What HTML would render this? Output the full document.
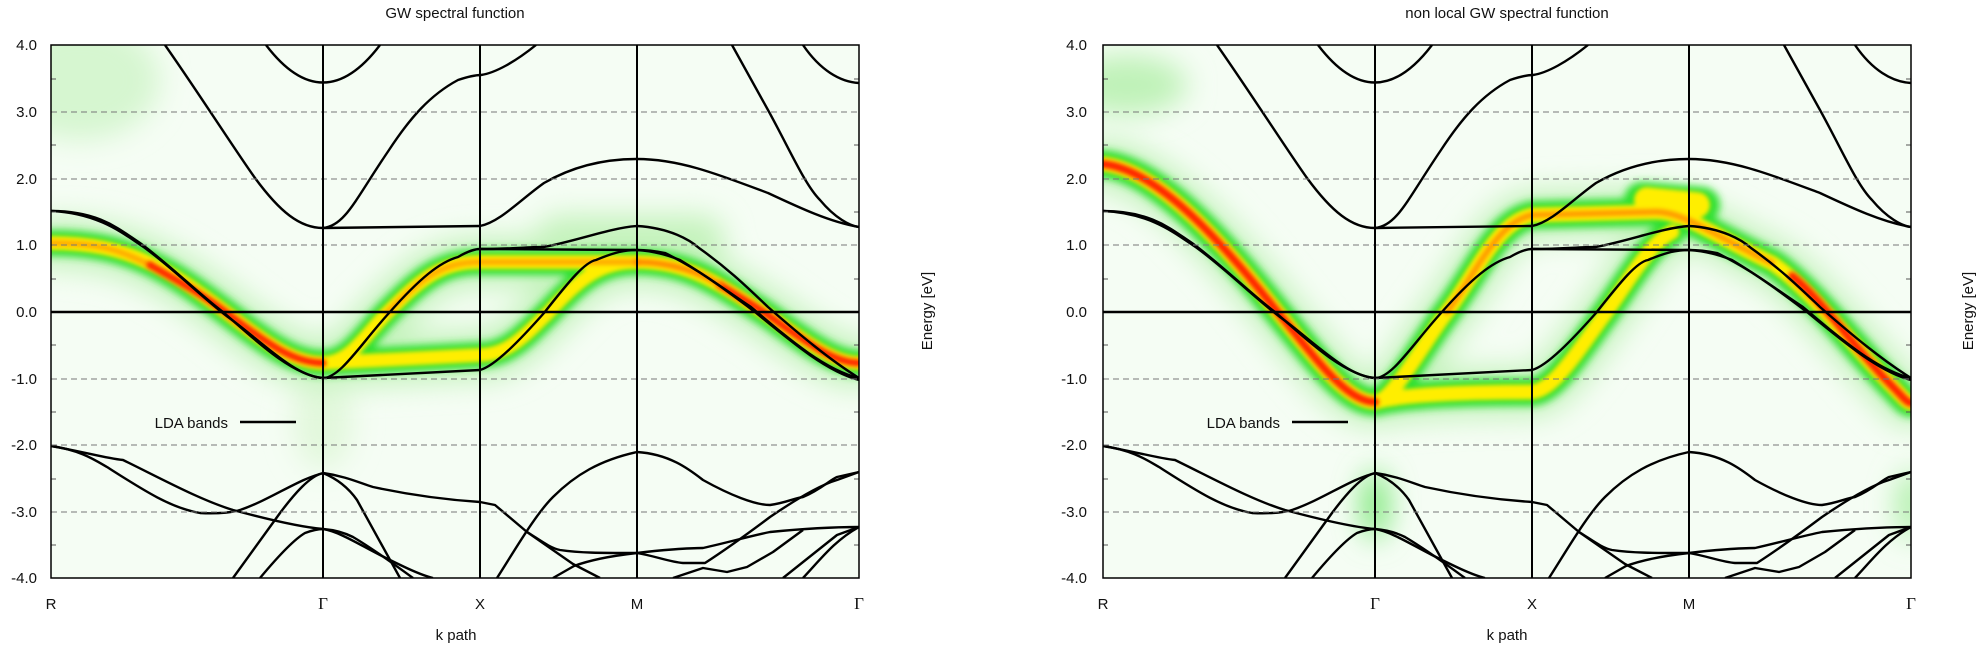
<!DOCTYPE html>
<html><head><meta charset="utf-8"><style>
html,body{margin:0;padding:0;background:#fff;}
svg{display:block;font-family:"Liberation Sans",sans-serif;}
</style></head><body>
<svg width="1984" height="650" viewBox="0 0 1984 650" xmlns="http://www.w3.org/2000/svg">
<defs>
<clipPath id="cp"><rect x="51" y="45" width="808" height="533"/></clipPath>
<filter id="fA" filterUnits="userSpaceOnUse" x="0" y="0" width="1000" height="650"><feGaussianBlur stdDeviation="14"/></filter>
<filter id="fB" filterUnits="userSpaceOnUse" x="0" y="0" width="1000" height="650"><feGaussianBlur stdDeviation="4"/></filter>
<filter id="fC" filterUnits="userSpaceOnUse" x="0" y="0" width="1000" height="650"><feGaussianBlur stdDeviation="2"/></filter>
<g id="lda" fill="none" stroke="#000" stroke-width="2.4" stroke-linejoin="round">
<path d="M165,45 C200,95 235,150 255,178 C280,212 300,228 323,228"/>
<path d="M266,45 Q323,120 380,45"/>
<path d="M323,228 C345,226 355,200 389,150 C410,118 430,95 458,80 C470,76 476,75 481,75 C495,73 515,62 536,45"/>
<path d="M323,228 L480,226"/>
<path d="M480,226 C500,222 520,200 544,183 C570,168 600,159 637,159 C680,159 720,175 768,193 C800,208 830,222 859,227"/>
<path d="M732,45 L768,110 C790,150 805,185 820,200 C835,218 850,226 859,227"/>
<path d="M803,45 C820,70 840,82 859,83"/>
<path d="M51,211 C100,211 120,230 140,243 C170,265 200,295 223,312 C250,335 290,375 323,378"/>
<path d="M51,211 C100,213 125,235 145,248 C175,270 205,300 228,317 C260,340 295,377 323,378"/>
<path d="M323,378 L480,370"/>
<path d="M323,378 C340,378 360,345 389,313 C420,278 440,262 458,257 C470,250 476,249 480,249"/>
<path d="M480,249 L637,250"/>
<path d="M480,370 C495,366 520,340 544,313 C570,280 585,262 596,260 C615,252 625,250 637,250"/>
<path d="M480,249 C510,249 530,247 544,247 C580,240 610,228 637,226"/>
<path d="M637,226 C670,228 690,240 699,248 C730,270 750,290 768,307 C800,335 830,360 859,378"/>
<path d="M637,250 C650,250 660,252 665,253 C700,270 725,290 751,307 C790,340 825,370 859,378"/>
<path d="M637,250 C655,251 670,256 680,260 C710,278 735,297 755,312 C795,345 828,372 859,380"/>
<path d="M51,446 C80,450 95,460 107,467 C140,488 170,508 200,513 C220,514 235,512 240,510 C270,500 300,478 324,473"/>
<path d="M51,446 C85,452 105,458 123,460 C160,478 200,500 233,510 C270,520 300,527 323,529"/>
<path d="M323,473 C345,476 360,483 373,487 C410,495 450,500 480,502"/>
<path d="M323,473 C340,480 350,490 357,500 L400,578"/>
<path d="M323,529 C335,530 345,533 353,537 C375,550 395,565 413,578"/>
<path d="M323,529 C340,532 360,545 380,555 C400,565 420,575 433,578"/>
<path d="M233,578 L280,513 C295,493 310,476 323,473"/>
<path d="M260,578 C275,560 293,540 305,533 C313,530 318,529 323,529"/>
<path d="M480,502 L495,505 L527,532 L573,564 L600,578"/>
<path d="M527,532 C540,540 550,548 560,550 C580,553 600,553 637,553"/>
<path d="M553,578 L574,566 C590,560 610,556 637,553"/>
<path d="M637,553 C660,550 690,548 703,548 C730,542 750,536 770,532 C800,529 830,527 859,527"/>
<path d="M637,553 C655,556 670,562 683,563 L705,563 C725,550 750,532 770,517 C795,500 820,485 837,480 L859,472"/>
<path d="M497,578 C515,550 535,515 553,497 C575,475 600,460 637,452 C670,454 690,470 703,480 C730,495 755,505 770,505 C785,503 795,498 803,497 C820,490 830,480 837,477 L859,472"/>
<path d="M673,578 L703,568 L727,572 L747,567 L773,552 L803,530"/>
<path d="M783,578 L837,535 L859,527"/>
<path d="M803,578 C820,560 835,540 859,527"/>
</g>
<g id="frame">
<g stroke="#777" stroke-width="1" stroke-dasharray="6,4">
<line x1="51" y1="112" x2="859" y2="112"/><line x1="51" y1="179" x2="859" y2="179"/><line x1="51" y1="245" x2="859" y2="245"/>
<line x1="51" y1="379" x2="859" y2="379"/><line x1="51" y1="445" x2="859" y2="445"/><line x1="51" y1="512" x2="859" y2="512"/>
</g>
<g stroke="#000" stroke-width="2">
<line x1="323" y1="45" x2="323" y2="578"/><line x1="480" y1="45" x2="480" y2="578"/><line x1="637" y1="45" x2="637" y2="578"/>
</g>
<line x1="51" y1="312" x2="859" y2="312" stroke="#000" stroke-width="2.5"/>
<g stroke="#555" stroke-width="1">
<path d="M51,79h5M51,145h5M51,212h5M51,279h5M51,345h5M51,412h5M51,479h5M51,545h5"/>
<path d="M859,79h-5M859,145h-5M859,212h-5M859,279h-5M859,345h-5M859,412h-5M859,479h-5M859,545h-5"/>
</g>
<rect x="51" y="45" width="808" height="533" fill="none" stroke="#000" stroke-width="1.5"/>
</g>
</defs>

<!-- Plot 1 -->
<g>
<rect x="51" y="45" width="808" height="533" fill="#f5fdf4"/>
<g clip-path="url(#cp)">
<ellipse cx="80" cy="80" rx="80" ry="60" fill="#d6f6d0" filter="url(#fA)"/>
<ellipse cx="323" cy="420" rx="30" ry="50" fill="#e2f8dc" filter="url(#fA)"/>
<g fill="none" stroke-linecap="round" stroke-linejoin="round">
<g stroke="#c4f3bc" stroke-width="50" filter="url(#fA)">
<path d="M51,243 C130,243 170,270 227,313 C270,346 295,363 323,363 C350,363 365,335 387,313 C420,280 440,262 480,262 L637,262 C690,262 720,285 765,313 C810,345 835,363 859,363"/>
<path d="M323,363 L480,355 C510,355 530,330 548,313 C575,285 595,262 637,262"/>
<path d="M560,240 L700,240"/>
</g>
<g stroke="#2ee02e" stroke-width="26" filter="url(#fB)">
<path d="M51,243 C130,243 170,270 227,313 C270,346 295,363 323,363 C350,363 365,335 387,313 C420,280 440,262 480,262 L637,262 C690,262 720,285 765,313 C810,345 835,363 859,363"/>
<path d="M323,363 L480,355 C510,355 530,330 548,313 C575,285 595,262 637,262"/>
</g>
<g stroke="#ffee00" stroke-width="14" filter="url(#fC)">
<path d="M51,243 C130,243 170,270 227,313 C270,346 295,363 323,363 C350,363 365,335 387,313 C420,280 440,262 480,262 L637,262 C690,262 720,285 765,313 C810,345 835,363 859,363"/>
<path d="M323,363 L480,355 C510,355 530,330 548,313 C575,285 595,262 637,262"/>
</g>
<g stroke="#ffaa00" stroke-width="6" filter="url(#fC)">
<path d="M387,313 C420,280 440,262 480,262 L637,262"/>
<path d="M51,243 C100,243 120,250 150,265"/>
</g>
<g stroke="#ff2200" stroke-width="7" filter="url(#fC)">
<path d="M150,265 C180,282 200,293 227,313 C270,346 295,363 323,363"/>
<path d="M720,285 C740,297 755,306 765,313 C810,345 835,363 859,363"/>
</g>
<g stroke="#ff8800" stroke-width="6" filter="url(#fC)">
<path d="M637,262 C670,262 700,272 720,285"/>
</g>
</g>
<use href="#lda"/>
</g>
<use href="#frame"/>
</g>

<!-- Plot 2 -->
<g transform="translate(1052,0)">
<rect x="51" y="45" width="808" height="533" fill="#f5fdf4"/>
<g clip-path="url(#cp)">
<ellipse cx="75" cy="85" rx="60" ry="30" fill="#bff2b8" filter="url(#fA)"/>
<ellipse cx="323" cy="505" rx="14" ry="35" fill="#7ee87a" filter="url(#fA)"/>
<ellipse cx="860" cy="505" rx="16" ry="35" fill="#b0f0aa" filter="url(#fA)"/>
<g fill="none" stroke-linecap="round" stroke-linejoin="round">
<g stroke="#c4f3bc" stroke-width="50" filter="url(#fA)">
<path d="M51,164 C110,170 180,255 228,315 C265,360 295,402 323,402 C340,402 370,345 395,312 C425,272 445,222 480,215 L600,212 C630,210 660,235 720,263 C760,290 800,345 840,386 C850,396 855,403 859,403"/>
<path d="M323,402 C350,395 400,392 480,392 C500,390 520,360 550,318 C575,285 595,245 620,232"/>
</g>
<g stroke="#2ee02e" stroke-width="28" filter="url(#fB)">
<path d="M51,164 C110,170 180,255 228,315 C265,360 295,402 323,402 C340,402 370,345 395,312 C425,272 445,222 480,215 L600,212 C630,210 660,235 720,263 C760,290 800,345 840,386 C850,396 855,403 859,403"/>
<path d="M323,402 C350,395 400,392 480,392 C500,390 520,360 550,318 C575,285 595,245 620,232"/>
<path d="M590,200 L650,205" stroke-width="36"/>
</g>
<g stroke="#ffee00" stroke-width="15" filter="url(#fC)">
<path d="M51,164 C110,170 180,255 228,315 C265,360 295,402 323,402 C340,402 370,345 395,312 C425,272 445,222 480,215 L600,212 C630,210 660,235 720,263 C760,290 800,345 840,386 C850,396 855,403 859,403"/>
<path d="M323,402 C350,395 400,392 480,392 C500,390 520,360 550,318 C575,285 595,245 620,232"/>
<path d="M595,200 L645,205" stroke-width="26"/>
</g>
<g stroke="#ff9900" stroke-width="6" filter="url(#fC)">
<path d="M395,312 C425,272 445,222 480,215 L600,212 C630,210 660,235 720,263"/>
</g>
<g stroke="#ff2200" stroke-width="8" filter="url(#fC)">
<path d="M51,164 C110,170 180,255 228,315 C265,360 295,402 323,402"/>
<path d="M740,276 C770,300 800,345 840,386 C850,396 855,403 859,403"/>
</g>
</g>
<use href="#lda"/>
</g>
<use href="#frame"/>
</g>

<!-- Text -->
<g font-size="15" fill="#111">
<text x="455" y="18" text-anchor="middle">GW spectral function</text>
<text x="1507" y="18" text-anchor="middle">non local GW spectral function</text>
<g text-anchor="end">
<text x="37" y="50">4.0</text><text x="37" y="117">3.0</text><text x="37" y="184">2.0</text><text x="37" y="250">1.0</text>
<text x="37" y="317">0.0</text><text x="37" y="384">-1.0</text><text x="37" y="450">-2.0</text><text x="37" y="517">-3.0</text><text x="37" y="583">-4.0</text>
<text x="1087" y="50">4.0</text><text x="1087" y="117">3.0</text><text x="1087" y="184">2.0</text><text x="1087" y="250">1.0</text>
<text x="1087" y="317">0.0</text><text x="1087" y="384">-1.0</text><text x="1087" y="450">-2.0</text><text x="1087" y="517">-3.0</text><text x="1087" y="583">-4.0</text>
</g>
<g text-anchor="middle">
<text x="51" y="609">R</text><text x="323" y="609" font-family="Liberation Serif,serif" font-size="17">Γ</text><text x="480" y="609">X</text><text x="637" y="609">M</text><text x="859" y="609" font-family="Liberation Serif,serif" font-size="17">Γ</text>
<text x="1103" y="609">R</text><text x="1375" y="609" font-family="Liberation Serif,serif" font-size="17">Γ</text><text x="1532" y="609">X</text><text x="1689" y="609">M</text><text x="1911" y="609" font-family="Liberation Serif,serif" font-size="17">Γ</text>
<text x="456" y="640">k path</text><text x="1507" y="640">k path</text>
</g>
<text transform="translate(932,311) rotate(-90)" text-anchor="middle">Energy [eV]</text>
<text transform="translate(1973,311) rotate(-90)" text-anchor="middle">Energy [eV]</text>
<text x="228" y="428" text-anchor="end">LDA bands</text>
<text x="1280" y="428" text-anchor="end">LDA bands</text>
</g>
<line x1="240" y1="422" x2="296" y2="422" stroke="#000" stroke-width="2.4"/>
<line x1="1292" y1="422" x2="1348" y2="422" stroke="#000" stroke-width="2.4"/>
</svg>
</body></html>
